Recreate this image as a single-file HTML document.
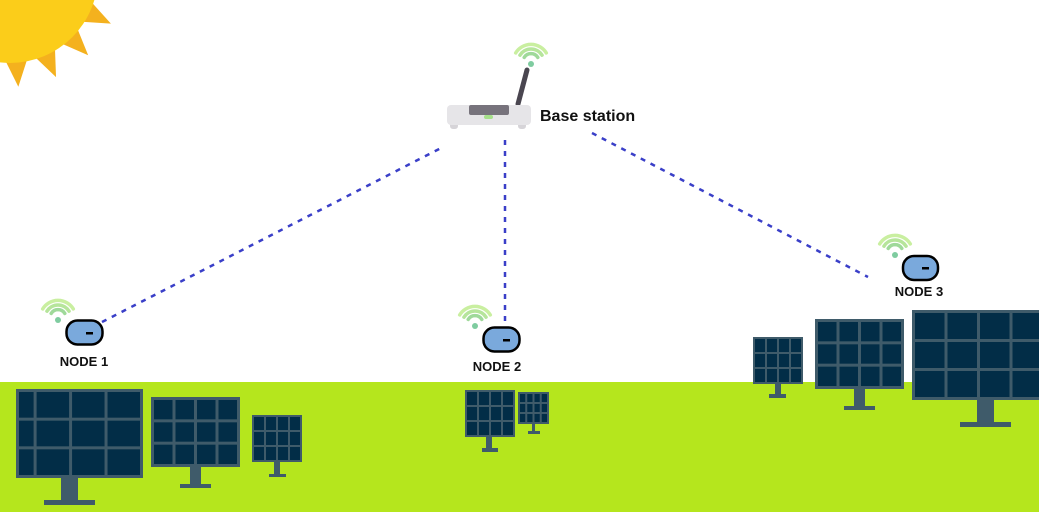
<!DOCTYPE html>
<html><head><meta charset="utf-8"><style>
html,body{margin:0;padding:0;background:#fff;width:1039px;height:512px;overflow:hidden}
svg{display:block}
text{font-family:"Liberation Sans","DejaVu Sans",sans-serif;font-weight:bold;fill:#111}
</style></head><body>
<svg id="s" width="1039" height="512" viewBox="0 0 1039 512" xmlns="http://www.w3.org/2000/svg">
<rect x="0" y="382" width="1039" height="130" fill="#b5e61d"/>
<g id="sun"></g>
<circle cx="10" cy="-25" r="88" fill="#fbcd1a"/>
<g stroke="#3a3fc8" stroke-width="2.5" stroke-dasharray="5 6" fill="none">
<line x1="102" y1="322" x2="443" y2="147"/>
<line x1="505" y1="140" x2="505" y2="325"/>
<line x1="592" y1="133" x2="868" y2="277"/>
</g>
<line x1="518" y1="104" x2="527" y2="70" stroke="#4a4650" stroke-width="5" stroke-linecap="round"/>
<rect x="450" y="120" width="8" height="9" rx="3" fill="#d6d4d8"/>
<rect x="518" y="120" width="8" height="9" rx="3" fill="#d6d4d8"/>
<rect x="447" y="105" width="84" height="20" rx="4" fill="#e6e5e8"/>
<rect x="469" y="105" width="40" height="10" rx="2" fill="#77737c"/>
<rect x="484" y="115" width="9" height="4" rx="2" fill="#a6e08a"/>
<text x="540" y="121" font-size="16">Base station</text>
<g id="wifis"></g>
<g id="panels"></g>
<rect x="66.5" y="320.5" width="36" height="24" rx="11" fill="#7aa9dc" stroke="#000" stroke-width="2.5"/>
<rect x="86" y="332" width="7" height="2.5" fill="#000"/>
<text x="84" y="366" font-size="13" text-anchor="middle">NODE 1</text>
<rect x="483.5" y="327.5" width="36" height="24" rx="11" fill="#7aa9dc" stroke="#000" stroke-width="2.5"/>
<rect x="503" y="339" width="7" height="2.5" fill="#000"/>
<text x="497" y="371" font-size="13" text-anchor="middle">NODE 2</text>
<rect x="903" y="256" width="35" height="24" rx="11" fill="#7aa9dc" stroke="#000" stroke-width="2.5"/>
<rect x="922" y="267" width="7" height="2.5" fill="#000"/>
<text x="919" y="296" font-size="13" text-anchor="middle">NODE 3</text>
</svg>
<script>
var NS="http://www.w3.org/2000/svg";
function el(p,t,a){var e=document.createElementNS(NS,t);for(var k in a)e.setAttribute(k,a[k]);p.appendChild(e);return e;}
var sun=document.getElementById('sun');var cx=10,cy=-25;
for(var i=0;i<18;i++){var a=i*Math.PI*2/18+0.1,w=0.14;
var r1=84,r2=112;
var p=[[cx+r1*Math.cos(a-w),cy+r1*Math.sin(a-w)],[cx+r2*Math.cos(a),cy+r2*Math.sin(a)],[cx+r1*Math.cos(a+w),cy+r1*Math.sin(a+w)]];
el(sun,'polygon',{points:p.map(function(q){return q.join(',')}).join(' '),fill:'#f4b11e'});}
var wg=document.getElementById('wifis');
function wifi(x,y){
el(wg,'circle',{cx:x,cy:y,r:3,fill:'#7fcca0'});
var arcs=[[8,'#9fd99a'],[13,'#b6e59b'],[18,'#c9efa0']];
arcs.forEach(function(a){var r=a[0];var dy=3;
el(wg,'path',{d:'M'+(x-r*0.85)+','+(y-dy-r*0.45)+' A'+r+','+r+' 0 0 1 '+(x+r*0.85)+','+(y-dy-r*0.45),stroke:a[1],'stroke-width':3.5,fill:'none','stroke-linecap':'round'});});
}
wifi(58,320);wifi(531,64);wifi(475,326);wifi(895,255);
var pg=document.getElementById('panels');
function panel(x1,y1,x2,y2,cols,rows,px1,px2,py2,bx1,bx2,by1,by2,off){
el(pg,'rect',{x:px1,y:y2,width:px2-px1,height:py2-y2,fill:'#3f5b6a'});
el(pg,'rect',{x:bx1,y:by1,width:bx2-bx1,height:by2-by1,fill:'#3f5b6a'});
el(pg,'rect',{x:x1,y:y1,width:x2-x1,height:y2-y1,fill:'#3f5b6a'});
var g=(x2-x1)>80?3:2,w=x2-x1,h=y2-y1;var cw=(w-g*(cols+1))/(cols-(off||0));var ch=(h-g*(rows+1))/rows;
var sx=x1+g-(off||0)*cw;
for(var c=0;c<cols;c++)for(var r=0;r<rows;r++){
var xx=sx+c*(cw+g),ww=cw;if(xx<x1+g){ww-=(x1+g-xx);xx=x1+g;}
if(xx+ww>x2-g)ww=x2-g-xx;
if(ww>0)el(pg,'rect',{x:xx,y:y1+g+r*(ch+g),width:ww,height:ch,fill:'#022d47'});}
}
panel(16,389,143,478,4,3,61,78,502,44,95,500,505,0.55);
panel(151,397,240,467,4,3,190,201,486,180,211,484,488,0);
panel(252,415,302,462,4,3,274,280,476,269,286,474,477,0);
panel(465,390,515,437,4,3,486,492,450,482,498,448,452,0);
panel(518,392,549,424,4,3,532,535,433,528,540,431,434,0);
panel(753,337,803,384,4,3,775,781,397,769,786,394,398,0);
panel(815,319,904,389,4,3,854,865,408,844,875,406,410,0);
panel(912,310,1045,400,4,3,977,994,425,960,1011,422,427,0);
</script>
</body></html>
